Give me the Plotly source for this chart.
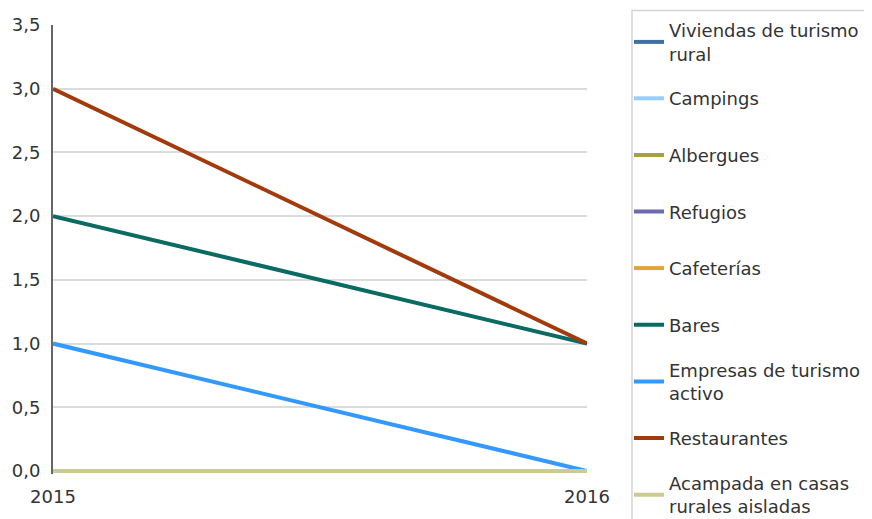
import plotly.graph_objects as go

years = [2015, 2016]
year_labels = ["2015", "2016"]

viviendas = [0, 0]
campings = [0, 0]
albergues = [0, 0]
refugios = [0, 0]
cafeterias = [0, 0]
bares = [2, 1]
empresas = [1, 0]
restaurantes = [3, 1]
acampada = [0, 0]

names = [
    "Viviendas de turismo<br>rural",
    "Campings",
    "Albergues",
    "Refugios",
    "Cafeterías",
    "Bares",
    "Empresas de turismo<br>activo",
    "Restaurantes",
    "Acampada en casas<br>rurales aisladas",
]
series = [viviendas, campings, albergues, refugios, cafeterias, bares,
          empresas, restaurantes, acampada]
colors = ["#3f6fa5", "#99ccff", "#a8a23a", "#6b6bb0", "#e0a53a",
          "#0a6b62", "#3399ff", "#a23b0c", "#cbcb94"]

FONT = "DejaVu Sans"
TXT = "#333333"

OFF = 8  # page body margin
W, H = 864, 511
EXTRA = 3  # px of room below zero so the zero-line is not clipped
ML, MR, MT, MB = 45, 285, 17, 48 - EXTRA
PW = W - ML - MR
PH = H - MT - MB
YMAX = 3.5
YMIN = -EXTRA * YMAX / (PH - EXTRA)

def px_to_paper_x(px):
    return (px - OFF - ML) / PW

def px_to_paper_y(py):
    return (H - MB - (py - OFF)) / PH

fig = go.Figure()
legend_layout = {}
first_center = 42
step = 56.6
for i, (nm, vals, col) in enumerate(zip(names, series, colors)):
    lg = "legend" if i == 0 else f"legend{i+1}"
    fig.add_trace(go.Scatter(
        x=years, y=vals, mode="lines", name=nm,
        line=dict(color=col, width=4),
        cliponaxis=False, legend=lg,
        hoverinfo="skip",
    ))
    legend_layout[lg] = dict(
        x=px_to_paper_x(629), xanchor="left",
        y=px_to_paper_y(first_center + i * step), yanchor="middle",
        bgcolor="rgba(0,0,0,0)", borderwidth=0,
        font=dict(family=FONT, size=18, color=TXT),
    )

fig.update_layout(
    width=W, height=H,
    margin=dict(l=ML, r=MR, t=MT, b=MB, autoexpand=False),
    paper_bgcolor="white", plot_bgcolor="white",
    separators=",.",
    showlegend=True,
    font=dict(family=FONT, size=18, color=TXT),
    xaxis=dict(
        range=[2015, 2016], tickvals=years, ticktext=year_labels,
        showgrid=True, gridcolor="#dcdcdc", gridwidth=1.5,
        zeroline=False, showline=False, ticks="",
        ticklabelstandoff=13 - EXTRA,
        tickfont=dict(family=FONT, size=18, color=TXT),
    ),
    yaxis=dict(
        range=[YMIN, YMAX], dtick=0.5, tick0=0, tickformat=".1f",
        showgrid=True, gridcolor="#dcdcdc", gridwidth=1.5,
        zeroline=False, showline=True, linecolor="#666666", linewidth=2,
        ticks="", ticklabelstandoff=7,
        tickfont=dict(family=FONT, size=18, color=TXT),
    ),
    shapes=[dict(
        type="rect", xref="paper", yref="paper",
        x0=px_to_paper_x(632), x1=px_to_paper_x(900),
        y0=px_to_paper_y(540), y1=px_to_paper_y(10.5),
        line=dict(color="#d4d4d4", width=1.5), fillcolor="rgba(0,0,0,0)",
        layer="below",
    )],
    **legend_layout,
)

fig.write_html("out.html")
